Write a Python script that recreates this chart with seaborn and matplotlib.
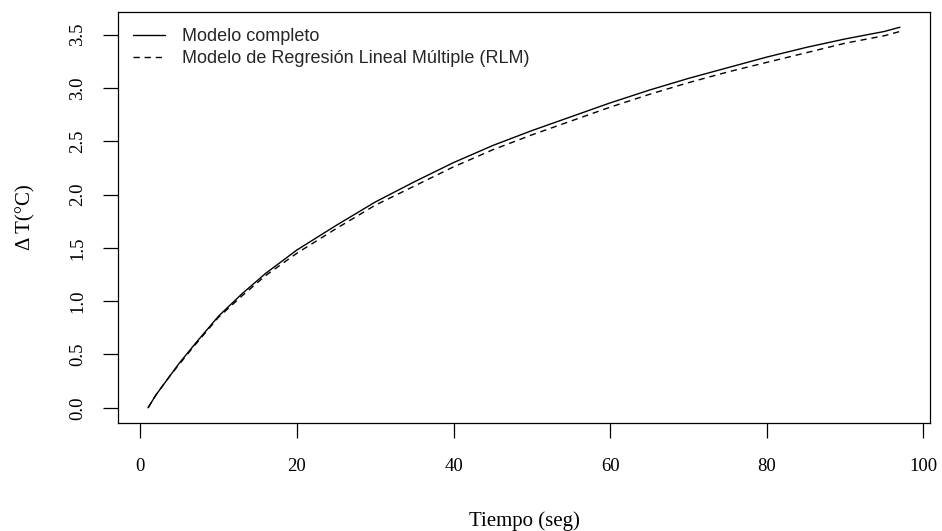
import matplotlib
matplotlib.use("Agg")
import matplotlib.pyplot as plt
import seaborn as sns
import pandas as pd
from matplotlib.lines import Line2D

# Data
tiempo = [1, 2, 3, 4, 5, 7, 10, 13, 16, 20, 25, 30, 35, 40, 45, 50, 55, 60, 65, 70, 75, 80, 85, 90, 95, 97]
modelo_completo = [0.00, 0.12, 0.22, 0.32, 0.42, 0.60, 0.86, 1.07, 1.26, 1.48, 1.71, 1.93, 2.12, 2.30, 2.46, 2.60, 2.73, 2.86, 2.98, 3.09, 3.19, 3.29, 3.38, 3.46, 3.53, 3.57]
modelo_rlm = [0.00, 0.12, 0.22, 0.32, 0.41, 0.59, 0.85, 1.05, 1.24, 1.45, 1.68, 1.90, 2.08, 2.26, 2.42, 2.56, 2.69, 2.82, 2.94, 3.05, 3.15, 3.24, 3.33, 3.42, 3.49, 3.53]
labels = ["Modelo completo", "Modelo de Regresión Lineal Múltiple (RLM)"]
x_ticks = [0, 20, 40, 60, 80, 100]
y_ticks = [0.0, 0.5, 1.0, 1.5, 2.0, 2.5, 3.0, 3.5]

df = pd.DataFrame({
    "Tiempo": tiempo + tiempo,
    "DT": modelo_completo + modelo_rlm,
    "Modelo": [labels[0]] * len(tiempo) + [labels[1]] * len(tiempo),
})

sns.set_style("white")
plt.rcParams["font.family"] = ["Liberation Serif", "DejaVu Serif"]

W, H = 942, 531
fig = plt.figure(figsize=(W / 100, H / 100), dpi=100)
left, right, top, bottom = 118, 930, 12, 423
ax = fig.add_axes([left / W, (H - bottom) / H, (right - left) / W, (bottom - top) / H])

lw = 1.0
sns.lineplot(data=df, x="Tiempo", y="DT", style="Modelo", style_order=labels,
             dashes={labels[0]: "", labels[1]: (4.5, 3.5)},
             color="black", linewidth=lw, ax=ax, legend=False)

# R-like axis limits (4% extension)
xr = max(tiempo) - min(tiempo)
ax.set_xlim(min(tiempo) - 0.04 * xr, max(tiempo) + 0.04 * xr)
yr = max(modelo_completo) - min(modelo_completo)
ax.set_ylim(min(modelo_completo) - 0.04 * yr, max(modelo_completo) + 0.04 * yr)

ax.set_xticks(x_ticks)
ax.set_xticklabels([str(t) for t in x_ticks])
ax.set_yticks(y_ticks)
ax.set_yticklabels([f"{t:.1f}" for t in y_ticks], rotation=90, va="center")

ax.tick_params(axis="both", direction="out", length=11, width=0.9, color="black",
               labelsize=13.5, labelcolor="black", bottom=True, left=True)
ax.tick_params(axis="x", pad=14)
ax.tick_params(axis="y", pad=12)
for s in ax.spines.values():
    s.set_visible(True)
    s.set_color("black")
    s.set_linewidth(0.9)

ax.set_xlabel("Tiempo (seg)", fontsize=15, labelpad=26, color="black")
ax.set_ylabel("Δ T(°C)", fontsize=15, labelpad=24, color="black")

handles = [Line2D([], [], color="black", lw=lw),
           Line2D([], [], color="black", lw=lw, linestyle=(0, (4.5, 3.5)))]
leg = ax.legend(handles, labels, loc="upper left",
                bbox_to_anchor=((133 - left) / (right - left), (bottom - 28) / (bottom - top)),
                frameon=False, borderaxespad=0, borderpad=0, handlelength=1.75,
                handletextpad=0.95, labelspacing=0.3,
                prop={"family": ["Liberation Sans", "DejaVu Sans"], "size": 13})

fig.savefig("out.png", dpi=100)
